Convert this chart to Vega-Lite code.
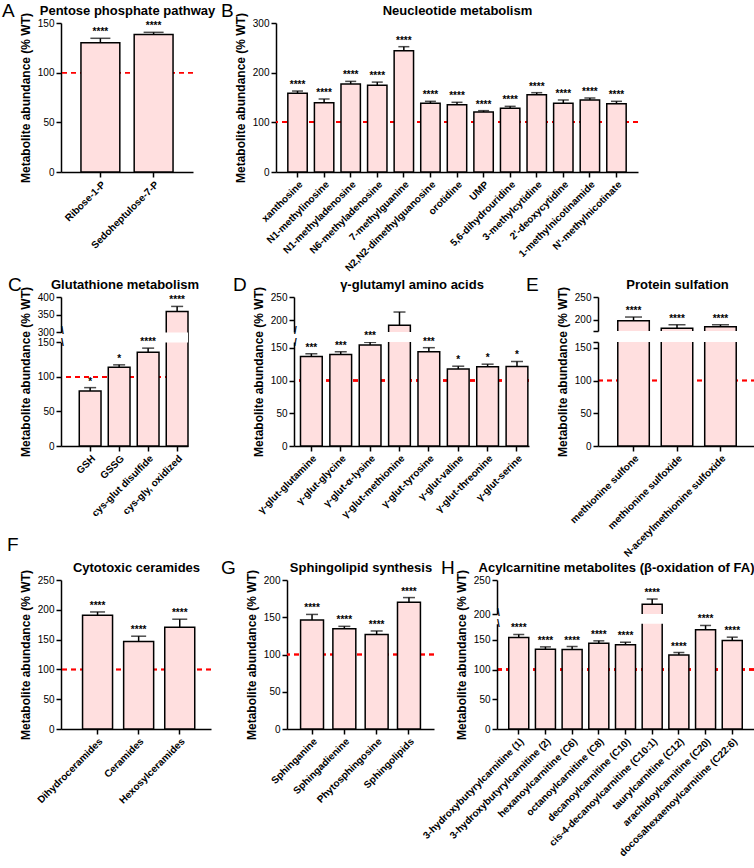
{
  "$schema": "https://vega.github.io/schema/vega-lite/v6.json",
  "padding": {"left": 2, "top": 2, "right": 0, "bottom": 0},
  "spacing": 3,
  "bounds": "full",
  "datasets": {
    "A": [
      {"name": "Ribose-1-P", "value": 130.2, "err": 134.6, "sig": "****"},
      {"name": "Sedoheptulose-7-P", "value": 138.3, "err": 140.6, "sig": "****"}
    ],
    "B": [
      {"name": "xanthosine", "value": 158.4, "err": 163, "sig": "****"},
      {"name": "N1-methylinosine", "value": 139.6, "err": 147, "sig": "****"},
      {"name": "N1-methyladenosine", "value": 177.2, "err": 182.5, "sig": "****"},
      {"name": "N6-methyladenosine", "value": 174.5, "err": 181, "sig": "****"},
      {"name": "7-methylguanine", "value": 244.3, "err": 252.3, "sig": "****"},
      {"name": "N2,N2-dimethylguanosine", "value": 138.3, "err": 142.3, "sig": "****"},
      {"name": "orotidine", "value": 135.6, "err": 140.3, "sig": "****"},
      {"name": "UMP", "value": 120.8, "err": 123.5, "sig": "****"},
      {"name": "5,6-dihydrouridine", "value": 128.2, "err": 132.2, "sig": "****"},
      {"name": "3-methylcytidine", "value": 155.7, "err": 159.7, "sig": "****"},
      {"name": "2'-deoxycytidine", "value": 138.3, "err": 145, "sig": "****"},
      {"name": "1-methylnicotinamide", "value": 145, "err": 149, "sig": "****"},
      {"name": "N'-methylnicotinate", "value": 137.6, "err": 142.3, "sig": "****"}
    ],
    "C": [
      {"name": "GSH", "value": 79.6, "err": 84.5, "sig": "*"},
      {"name": "GSSG", "value": 114, "err": 117.5, "sig": "*"},
      {"name": "cys-glut disulfide", "value": 135.9, "err": 141.7, "sig": "****"},
      {"name": "cys-gly, oxidized", "value": 359.2, "err": 373.4, "sig": "****"}
    ],
    "Cbreak": [{"lo": 150, "hi": 300}],
    "D": [
      {"name": "γ-glut-glutamine", "value": 136.9, "err": 141, "sig": "***"},
      {"name": "γ-glut-glycine", "value": 140, "err": 144.1, "sig": "***"},
      {"name": "γ-glut-α-lysine", "value": 154.4, "err": 158.5, "sig": "***"},
      {"name": "γ-glut-methionine", "value": 189.3, "err": 217.8, "sig": ""},
      {"name": "γ-glut-tyrosine", "value": 144.1, "err": 150.3, "sig": "***"},
      {"name": "γ-glut-valine", "value": 117.9, "err": 122, "sig": "*"},
      {"name": "γ-glut-threonine", "value": 121, "err": 125.1, "sig": "*"},
      {"name": "γ-glut-serine", "value": 121.5, "err": 129.2, "sig": "*"}
    ],
    "Dbreak": [{"lo": 159, "hi": 175}],
    "E": [
      {"name": "methionine sulfone", "value": 197.8, "err": 205.8, "sig": "****"},
      {"name": "methionine sulfoxide", "value": 181, "err": 188.8, "sig": "****"},
      {"name": "N-acetylmethionine sulfoxide", "value": 184.3, "err": 188.8, "sig": "****"}
    ],
    "Ebreak": [{"lo": 159, "hi": 175}],
    "F": [
      {"name": "Dihydroceramides", "value": 190.8, "err": 196.4, "sig": "****"},
      {"name": "Ceramides", "value": 146.8, "err": 155.7, "sig": "****"},
      {"name": "Hexosylceramides", "value": 170.8, "err": 184.2, "sig": "****"}
    ],
    "G": [
      {"name": "Sphinganine", "value": 146.2, "err": 153.8, "sig": "****"},
      {"name": "Sphingadienine", "value": 134.7, "err": 137.8, "sig": "****"},
      {"name": "Phytosphingosine", "value": 126.7, "err": 131.6, "sig": "****"},
      {"name": "Sphingolipids", "value": 170.2, "err": 176.4, "sig": "****"}
    ],
    "H": [
      {"name": "3-hydroxybutyrylcarnitine (1)", "value": 153.9, "err": 159, "sig": "****"},
      {"name": "3-hydroxybutyrylcarnitine (2)", "value": 134.3, "err": 138.2, "sig": "****"},
      {"name": "hexanoylcarnitine (C6)", "value": 133.7, "err": 138.8, "sig": "****"},
      {"name": "octanoylcarnitine (C8)", "value": 144.4, "err": 148.3, "sig": "****"},
      {"name": "decanoylcarnitine (C10)", "value": 141.6, "err": 146, "sig": "****"},
      {"name": "cis-4-decanoylcarnitine (C10:1)", "value": 214.3, "err": 222, "sig": "****"},
      {"name": "taurylcarnitine (C12)", "value": 124.7, "err": 128.7, "sig": "****"},
      {"name": "arachidoylcarnitine (C20)", "value": 166.9, "err": 174.2, "sig": "****"},
      {"name": "docosahexaenoylcarnitine (C22:6)", "value": 148.9, "err": 154.5, "sig": "****"}
    ],
    "Hbreak": [{"lo": 177, "hi": 200}]
  },
  "vconcat": [
    {
      "hconcat": [
        {
          "width": 132, "height": 149,
          "title": {"text": "A", "dx": -59, "offset": -17},
          "data": {"name": "A"},
          "resolve": {"axis": {"x": "independent"}},
          "layer": [
            {"mark": {"type": "rule", "color": "#ff0000", "strokeDash": [5, 4], "strokeWidth": 1.5}, "encoding": {"y": {"datum": 100, "type": "quantitative", "scale": {"domain": [0, 150], "nice": false}, "axis": {"title": "Metabolite abundance (% WT)", "values": [0, 50, 100, 150], "labelOverlap": false}}}},
            {"mark": {"type": "bar", "fill": "#ffdfdf", "stroke": "#000000", "strokeWidth": 1.5},
             "encoding": {
               "x": {"field": "name", "type": "nominal", "sort": null, "scale": {"paddingInner": 0.27, "paddingOuter": 0.375}, "axis": {"title": null}},
               "y": {"field": "value", "type": "quantitative", "scale": {"domain": [0, 150], "nice": false}, "axis": {"title": "Metabolite abundance (% WT)", "values": [0, 50, 100, 150], "labelOverlap": false}}}},
            {"mark": {"type": "rule", "color": "#000000", "strokeWidth": 1.5}, "encoding": {"x": {"field": "name", "type": "nominal", "sort": null, "axis": null}, "y": {"field": "value", "type": "quantitative", "axis": {"title": "Metabolite abundance (% WT)", "values": [0, 50, 100, 150], "labelOverlap": false}}, "y2": {"field": "err"}}},
            {"mark": {"type": "tick", "color": "#000000", "thickness": 1.5, "size": 20}, "encoding": {"x": {"field": "name", "type": "nominal", "sort": null, "axis": null}, "y": {"field": "err", "type": "quantitative", "axis": {"title": "Metabolite abundance (% WT)", "values": [0, 50, 100, 150], "labelOverlap": false}}}},
            {"mark": {"type": "text", "fontSize": 10, "fontWeight": "bold", "baseline": "alphabetic", "dy": -3}, "encoding": {"x": {"field": "name", "type": "nominal", "sort": null, "axis": {"orient": "top", "title": "Pentose phosphate pathway", "labels": false, "ticks": false, "domain": false}}, "y": {"field": "err", "type": "quantitative", "axis": {"title": "Metabolite abundance (% WT)", "values": [0, 50, 100, 150], "labelOverlap": false}}, "text": {"field": "sig"}}}
          ]
        },
        {
          "width": 362, "height": 149,
          "title": {"text": "B", "dx": -55, "offset": -17},
          "data": {"name": "B"},
          "resolve": {"axis": {"x": "independent"}},
          "layer": [
            {"mark": {"type": "rule", "color": "#ff0000", "strokeDash": [5, 4], "strokeWidth": 1.5}, "encoding": {"y": {"datum": 100, "type": "quantitative", "scale": {"domain": [0, 300], "nice": false}, "axis": {"title": "Metabolite abundance (% WT)", "values": [0, 100, 200, 300], "labelOverlap": false}}}},
            {"mark": {"type": "bar", "fill": "#ffdfdf", "stroke": "#000000", "strokeWidth": 1.5},
             "encoding": {
               "x": {"field": "name", "type": "nominal", "sort": null, "scale": {"paddingInner": 0.27, "paddingOuter": 0.445}, "axis": {"title": null}},
               "y": {"field": "value", "type": "quantitative", "scale": {"domain": [0, 300], "nice": false}, "axis": {"title": "Metabolite abundance (% WT)", "values": [0, 100, 200, 300], "labelOverlap": false}}}},
            {"mark": {"type": "rule", "color": "#000000", "strokeWidth": 1.5}, "encoding": {"x": {"field": "name", "type": "nominal", "sort": null, "axis": null}, "y": {"field": "value", "type": "quantitative", "axis": {"title": "Metabolite abundance (% WT)", "values": [0, 100, 200, 300], "labelOverlap": false}}, "y2": {"field": "err"}}},
            {"mark": {"type": "tick", "color": "#000000", "thickness": 1.5, "size": 11}, "encoding": {"x": {"field": "name", "type": "nominal", "sort": null, "axis": null}, "y": {"field": "err", "type": "quantitative", "axis": {"title": "Metabolite abundance (% WT)", "values": [0, 100, 200, 300], "labelOverlap": false}}}},
            {"mark": {"type": "text", "fontSize": 10, "fontWeight": "bold", "baseline": "alphabetic", "dy": -3}, "encoding": {"x": {"field": "name", "type": "nominal", "sort": null, "axis": {"orient": "top", "title": "Neucleotide metabolism", "labels": false, "ticks": false, "domain": false}}, "y": {"field": "err", "type": "quantitative", "axis": {"title": "Metabolite abundance (% WT)", "values": [0, 100, 200, 300], "labelOverlap": false}}, "text": {"field": "sig"}}}
          ]
        }
      ],
      "spacing": 83,
      "bounds": "flush"
    },
    {
      "vconcat": [
        {
          "hconcat": [
            {
              "width": 127, "height": 149,
              "title": {"text": "C", "dx": -53, "offset": -17},
              "data": {"name": "C"},
              "resolve": {"axis": {"x": "independent"}},
              "layer": [
                {"mark": {"type": "rule", "color": "#ff0000", "strokeDash": [5, 4], "strokeWidth": 1.5}, "encoding": {"y": {"datum": 100, "type": "quantitative", "scale": {"domain": [0, 150, 300, 400], "range": [149, 45.4, 35.4, 0], "nice": false}, "axis": {"title": "Metabolite abundance (% WT)", "values": [0, 50, 100, 150, 150.01, 299.99, 300, 350, 400], "labelOverlap": false, "zindex": 1, "domainDash": [103.6, 10, 300], "labelExpr": "datum.value == 150.01 || datum.value == 299.99 ? '\\\\' : datum.label", "labelPadding": {"condition": {"test": "datum.value == 150.01 || datum.value == 299.99", "value": -6}, "value": 2}, "labelAlign": {"condition": {"test": "datum.value == 150.01 || datum.value == 299.99", "value": "center"}, "value": "right"}, "labelFontSize": {"condition": {"test": "datum.value == 150.01 || datum.value == 299.99", "value": 10}, "value": 10}, "labelFontWeight": {"condition": {"test": "datum.value == 150.01 || datum.value == 299.99", "value": "bold"}, "value": "normal"}, "labelOffset": {"condition": {"test": "datum.value == 299.99", "value": -2}, "value": 0}, "tickOpacity": {"condition": {"test": "datum.value == 150.01 || datum.value == 299.99", "value": 0}, "value": 1}}}}},
                {"mark": {"type": "bar", "fill": "#ffdfdf", "stroke": "#000000", "strokeWidth": 1.5},
                 "encoding": {
                   "x": {"field": "name", "type": "nominal", "sort": null, "scale": {"paddingInner": 0.25, "paddingOuter": 0.315, "align": 1}, "axis": {"title": null}},
                   "y": {"field": "value", "type": "quantitative", "scale": {"domain": [0, 150, 300, 400], "range": [149, 45.4, 35.4, 0], "nice": false}, "axis": {"title": "Metabolite abundance (% WT)", "values": [0, 50, 100, 150, 150.01, 299.99, 300, 350, 400], "labelOverlap": false, "zindex": 1, "domainDash": [103.6, 10, 300], "labelExpr": "datum.value == 150.01 || datum.value == 299.99 ? '\\\\' : datum.label", "labelPadding": {"condition": {"test": "datum.value == 150.01 || datum.value == 299.99", "value": -6}, "value": 2}, "labelAlign": {"condition": {"test": "datum.value == 150.01 || datum.value == 299.99", "value": "center"}, "value": "right"}, "labelFontSize": {"condition": {"test": "datum.value == 150.01 || datum.value == 299.99", "value": 10}, "value": 10}, "labelFontWeight": {"condition": {"test": "datum.value == 150.01 || datum.value == 299.99", "value": "bold"}, "value": "normal"}, "labelOffset": {"condition": {"test": "datum.value == 299.99", "value": -2}, "value": 0}, "tickOpacity": {"condition": {"test": "datum.value == 150.01 || datum.value == 299.99", "value": 0}, "value": 1}}}}},
                {"mark": {"type": "rule", "color": "#000000", "strokeWidth": 1.5}, "encoding": {"x": {"field": "name", "type": "nominal", "sort": null, "axis": null}, "y": {"field": "value", "type": "quantitative", "axis": {"title": "Metabolite abundance (% WT)", "values": [0, 50, 100, 150, 150.01, 299.99, 300, 350, 400], "labelOverlap": false, "zindex": 1, "domainDash": [103.6, 10, 300], "labelExpr": "datum.value == 150.01 || datum.value == 299.99 ? '\\\\' : datum.label", "labelPadding": {"condition": {"test": "datum.value == 150.01 || datum.value == 299.99", "value": -6}, "value": 2}, "labelAlign": {"condition": {"test": "datum.value == 150.01 || datum.value == 299.99", "value": "center"}, "value": "right"}, "labelFontSize": {"condition": {"test": "datum.value == 150.01 || datum.value == 299.99", "value": 10}, "value": 10}, "labelFontWeight": {"condition": {"test": "datum.value == 150.01 || datum.value == 299.99", "value": "bold"}, "value": "normal"}, "labelOffset": {"condition": {"test": "datum.value == 299.99", "value": -2}, "value": 0}, "tickOpacity": {"condition": {"test": "datum.value == 150.01 || datum.value == 299.99", "value": 0}, "value": 1}}}, "y2": {"field": "err"}}},
                {"mark": {"type": "tick", "color": "#000000", "thickness": 1.5, "size": 12}, "encoding": {"x": {"field": "name", "type": "nominal", "sort": null, "axis": null}, "y": {"field": "err", "type": "quantitative", "axis": {"title": "Metabolite abundance (% WT)", "values": [0, 50, 100, 150, 150.01, 299.99, 300, 350, 400], "labelOverlap": false, "zindex": 1, "domainDash": [103.6, 10, 300], "labelExpr": "datum.value == 150.01 || datum.value == 299.99 ? '\\\\' : datum.label", "labelPadding": {"condition": {"test": "datum.value == 150.01 || datum.value == 299.99", "value": -6}, "value": 2}, "labelAlign": {"condition": {"test": "datum.value == 150.01 || datum.value == 299.99", "value": "center"}, "value": "right"}, "labelFontSize": {"condition": {"test": "datum.value == 150.01 || datum.value == 299.99", "value": 10}, "value": 10}, "labelFontWeight": {"condition": {"test": "datum.value == 150.01 || datum.value == 299.99", "value": "bold"}, "value": "normal"}, "labelOffset": {"condition": {"test": "datum.value == 299.99", "value": -2}, "value": 0}, "tickOpacity": {"condition": {"test": "datum.value == 150.01 || datum.value == 299.99", "value": 0}, "value": 1}}}}},
                {"data": {"name": "Cbreak"}, "mark": {"type": "rect", "fill": "#ffffff"}, "encoding": {"y": {"field": "lo", "type": "quantitative", "axis": {"title": "Metabolite abundance (% WT)", "values": [0, 50, 100, 150, 150.01, 299.99, 300, 350, 400], "labelOverlap": false, "zindex": 1, "domainDash": [103.6, 10, 300], "labelExpr": "datum.value == 150.01 || datum.value == 299.99 ? '\\\\' : datum.label", "labelPadding": {"condition": {"test": "datum.value == 150.01 || datum.value == 299.99", "value": -6}, "value": 2}, "labelAlign": {"condition": {"test": "datum.value == 150.01 || datum.value == 299.99", "value": "center"}, "value": "right"}, "labelFontSize": {"condition": {"test": "datum.value == 150.01 || datum.value == 299.99", "value": 10}, "value": 10}, "labelFontWeight": {"condition": {"test": "datum.value == 150.01 || datum.value == 299.99", "value": "bold"}, "value": "normal"}, "labelOffset": {"condition": {"test": "datum.value == 299.99", "value": -2}, "value": 0}, "tickOpacity": {"condition": {"test": "datum.value == 150.01 || datum.value == 299.99", "value": 0}, "value": 1}}}, "y2": {"field": "hi"}}},
                {"mark": {"type": "text", "fontSize": 10, "fontWeight": "bold", "baseline": "alphabetic", "dy": -3}, "encoding": {"x": {"field": "name", "type": "nominal", "sort": null, "axis": {"orient": "top", "title": "Glutathione metabolism", "labels": false, "ticks": false, "domain": false}}, "y": {"field": "err", "type": "quantitative", "axis": {"title": "Metabolite abundance (% WT)", "values": [0, 50, 100, 150, 150.01, 299.99, 300, 350, 400], "labelOverlap": false, "zindex": 1, "domainDash": [103.6, 10, 300], "labelExpr": "datum.value == 150.01 || datum.value == 299.99 ? '\\\\' : datum.label", "labelPadding": {"condition": {"test": "datum.value == 150.01 || datum.value == 299.99", "value": -6}, "value": 2}, "labelAlign": {"condition": {"test": "datum.value == 150.01 || datum.value == 299.99", "value": "center"}, "value": "right"}, "labelFontSize": {"condition": {"test": "datum.value == 150.01 || datum.value == 299.99", "value": 10}, "value": 10}, "labelFontWeight": {"condition": {"test": "datum.value == 150.01 || datum.value == 299.99", "value": "bold"}, "value": "normal"}, "labelOffset": {"condition": {"test": "datum.value == 299.99", "value": -2}, "value": 0}, "tickOpacity": {"condition": {"test": "datum.value == 150.01 || datum.value == 299.99", "value": 0}, "value": 1}}}, "text": {"field": "sig"}}}
              ]
            },
            {
              "hconcat": [
                {
                  "width": 235, "height": 149,
                  "title": {"text": "D", "dx": -61, "offset": -17},
                  "data": {"name": "D"},
                  "resolve": {"axis": {"x": "independent"}},
                  "layer": [
                    {"mark": {"type": "rule", "color": "#ff0000", "strokeDash": [5, 4], "strokeWidth": 1.5}, "encoding": {"y": {"datum": 100, "type": "quantitative", "scale": {"domain": [0, 159, 175, 250], "range": [149, 45, 35, 0], "nice": false}, "axis": {"title": "Metabolite abundance (% WT)", "values": [0, 50, 100, 150, 159, 175, 200, 250], "labelOverlap": false, "zindex": 1, "domainDash": [104, 10, 300], "labelExpr": "datum.value == 159 || datum.value == 175 ? '/' : datum.label", "labelPadding": {"condition": {"test": "datum.value == 159 || datum.value == 175", "value": -6}, "value": 2}, "labelAlign": {"condition": {"test": "datum.value == 159 || datum.value == 175", "value": "center"}, "value": "right"}, "labelFontWeight": {"condition": {"test": "datum.value == 159 || datum.value == 175", "value": "bold"}, "value": "normal"}, "labelOffset": {"condition": {"test": "datum.value == 175", "value": -2}, "value": 0}, "tickOpacity": {"condition": {"test": "datum.value == 159 || datum.value == 175", "value": 0}, "value": 1}}}}},
                    {"mark": {"type": "bar", "fill": "#ffdfdf", "stroke": "#000000", "strokeWidth": 1.5},
                     "encoding": {
                       "x": {"field": "name", "type": "nominal", "sort": null, "scale": {"paddingInner": 0.26, "paddingOuter": 0.13, "align": 0.85}, "axis": {"title": null}},
                       "y": {"field": "value", "type": "quantitative", "scale": {"domain": [0, 159, 175, 250], "range": [149, 45, 35, 0], "nice": false}, "axis": {"title": "Metabolite abundance (% WT)", "values": [0, 50, 100, 150, 159, 175, 200, 250], "labelOverlap": false, "zindex": 1, "domainDash": [104, 10, 300], "labelExpr": "datum.value == 159 || datum.value == 175 ? '/' : datum.label", "labelPadding": {"condition": {"test": "datum.value == 159 || datum.value == 175", "value": -6}, "value": 2}, "labelAlign": {"condition": {"test": "datum.value == 159 || datum.value == 175", "value": "center"}, "value": "right"}, "labelFontWeight": {"condition": {"test": "datum.value == 159 || datum.value == 175", "value": "bold"}, "value": "normal"}, "labelOffset": {"condition": {"test": "datum.value == 175", "value": -2}, "value": 0}, "tickOpacity": {"condition": {"test": "datum.value == 159 || datum.value == 175", "value": 0}, "value": 1}}}}},
                    {"mark": {"type": "rule", "color": "#000000", "strokeWidth": 1.5}, "encoding": {"x": {"field": "name", "type": "nominal", "sort": null, "axis": null}, "y": {"field": "value", "type": "quantitative", "axis": {"title": "Metabolite abundance (% WT)", "values": [0, 50, 100, 150, 159, 175, 200, 250], "labelOverlap": false, "zindex": 1, "domainDash": [104, 10, 300], "labelExpr": "datum.value == 159 || datum.value == 175 ? '/' : datum.label", "labelPadding": {"condition": {"test": "datum.value == 159 || datum.value == 175", "value": -6}, "value": 2}, "labelAlign": {"condition": {"test": "datum.value == 159 || datum.value == 175", "value": "center"}, "value": "right"}, "labelFontWeight": {"condition": {"test": "datum.value == 159 || datum.value == 175", "value": "bold"}, "value": "normal"}, "labelOffset": {"condition": {"test": "datum.value == 175", "value": -2}, "value": 0}, "tickOpacity": {"condition": {"test": "datum.value == 159 || datum.value == 175", "value": 0}, "value": 1}}}, "y2": {"field": "err"}}},
                    {"mark": {"type": "tick", "color": "#000000", "thickness": 1.5, "size": 12}, "encoding": {"x": {"field": "name", "type": "nominal", "sort": null, "axis": null}, "y": {"field": "err", "type": "quantitative", "axis": {"title": "Metabolite abundance (% WT)", "values": [0, 50, 100, 150, 159, 175, 200, 250], "labelOverlap": false, "zindex": 1, "domainDash": [104, 10, 300], "labelExpr": "datum.value == 159 || datum.value == 175 ? '/' : datum.label", "labelPadding": {"condition": {"test": "datum.value == 159 || datum.value == 175", "value": -6}, "value": 2}, "labelAlign": {"condition": {"test": "datum.value == 159 || datum.value == 175", "value": "center"}, "value": "right"}, "labelFontWeight": {"condition": {"test": "datum.value == 159 || datum.value == 175", "value": "bold"}, "value": "normal"}, "labelOffset": {"condition": {"test": "datum.value == 175", "value": -2}, "value": 0}, "tickOpacity": {"condition": {"test": "datum.value == 159 || datum.value == 175", "value": 0}, "value": 1}}}}},
                    {"data": {"name": "Dbreak"}, "mark": {"type": "rect", "fill": "#ffffff"}, "encoding": {"y": {"field": "lo", "type": "quantitative", "axis": {"title": "Metabolite abundance (% WT)", "values": [0, 50, 100, 150, 159, 175, 200, 250], "labelOverlap": false, "zindex": 1, "domainDash": [104, 10, 300], "labelExpr": "datum.value == 159 || datum.value == 175 ? '/' : datum.label", "labelPadding": {"condition": {"test": "datum.value == 159 || datum.value == 175", "value": -6}, "value": 2}, "labelAlign": {"condition": {"test": "datum.value == 159 || datum.value == 175", "value": "center"}, "value": "right"}, "labelFontWeight": {"condition": {"test": "datum.value == 159 || datum.value == 175", "value": "bold"}, "value": "normal"}, "labelOffset": {"condition": {"test": "datum.value == 175", "value": -2}, "value": 0}, "tickOpacity": {"condition": {"test": "datum.value == 159 || datum.value == 175", "value": 0}, "value": 1}}}, "y2": {"field": "hi"}}},
                    {"mark": {"type": "text", "fontSize": 10, "fontWeight": "bold", "baseline": "alphabetic", "dy": -3}, "encoding": {"x": {"field": "name", "type": "nominal", "sort": null, "axis": {"orient": "top", "title": "γ-glutamyl amino acids", "labels": false, "ticks": false, "domain": false}}, "y": {"field": "err", "type": "quantitative", "axis": {"title": "Metabolite abundance (% WT)", "values": [0, 50, 100, 150, 159, 175, 200, 250], "labelOverlap": false, "zindex": 1, "domainDash": [104, 10, 300], "labelExpr": "datum.value == 159 || datum.value == 175 ? '/' : datum.label", "labelPadding": {"condition": {"test": "datum.value == 159 || datum.value == 175", "value": -6}, "value": 2}, "labelAlign": {"condition": {"test": "datum.value == 159 || datum.value == 175", "value": "center"}, "value": "right"}, "labelFontWeight": {"condition": {"test": "datum.value == 159 || datum.value == 175", "value": "bold"}, "value": "normal"}, "labelOffset": {"condition": {"test": "datum.value == 175", "value": -2}, "value": 0}, "tickOpacity": {"condition": {"test": "datum.value == 159 || datum.value == 175", "value": 0}, "value": 1}}}, "text": {"field": "sig"}}}
                  ]
                },
                {
                  "width": 158, "height": 149,
                  "title": {"text": "E", "dx": -72, "offset": -17},
                  "data": {"name": "E"},
                  "resolve": {"axis": {"x": "independent"}},
                  "layer": [
                    {"mark": {"type": "rule", "color": "#ff0000", "strokeDash": [5, 4], "strokeWidth": 1.5}, "encoding": {"y": {"datum": 100, "type": "quantitative", "scale": {"domain": [0, 159, 175, 250], "range": [149, 45, 34, 0], "nice": false}, "axis": {"title": "Metabolite abundance (% WT)", "values": [0, 50, 100, 150, 159, 175, 200, 250], "labelOverlap": false, "zindex": 1, "domainDash": [104, 11, 300], "labelExpr": "datum.value == 159 || datum.value == 175 ? '' : datum.label"}}}},
                    {"mark": {"type": "bar", "fill": "#ffdfdf", "stroke": "#000000", "strokeWidth": 1.5},
                     "encoding": {
                       "x": {"field": "name", "type": "nominal", "sort": null, "scale": {"paddingInner": 0.275, "paddingOuter": 0.455}, "axis": {"title": null}},
                       "y": {"field": "value", "type": "quantitative", "scale": {"domain": [0, 159, 175, 250], "range": [149, 45, 34, 0], "nice": false}, "axis": {"title": "Metabolite abundance (% WT)", "values": [0, 50, 100, 150, 159, 175, 200, 250], "labelOverlap": false, "zindex": 1, "domainDash": [104, 11, 300], "labelExpr": "datum.value == 159 || datum.value == 175 ? '' : datum.label"}}}},
                    {"mark": {"type": "rule", "color": "#000000", "strokeWidth": 1.5}, "encoding": {"x": {"field": "name", "type": "nominal", "sort": null, "axis": null}, "y": {"field": "value", "type": "quantitative", "axis": {"title": "Metabolite abundance (% WT)", "values": [0, 50, 100, 150, 159, 175, 200, 250], "labelOverlap": false, "zindex": 1, "domainDash": [104, 11, 300], "labelExpr": "datum.value == 159 || datum.value == 175 ? '' : datum.label"}}, "y2": {"field": "err"}}},
                    {"mark": {"type": "tick", "color": "#000000", "thickness": 1.5, "size": 17}, "encoding": {"x": {"field": "name", "type": "nominal", "sort": null, "axis": null}, "y": {"field": "err", "type": "quantitative", "axis": {"title": "Metabolite abundance (% WT)", "values": [0, 50, 100, 150, 159, 175, 200, 250], "labelOverlap": false, "zindex": 1, "domainDash": [104, 11, 300], "labelExpr": "datum.value == 159 || datum.value == 175 ? '' : datum.label"}}}},
                    {"data": {"name": "Ebreak"}, "mark": {"type": "rect", "fill": "#ffffff"}, "encoding": {"y": {"field": "lo", "type": "quantitative", "axis": {"title": "Metabolite abundance (% WT)", "values": [0, 50, 100, 150, 159, 175, 200, 250], "labelOverlap": false, "zindex": 1, "domainDash": [104, 11, 300], "labelExpr": "datum.value == 159 || datum.value == 175 ? '' : datum.label"}}, "y2": {"field": "hi"}}},
                    {"mark": {"type": "text", "fontSize": 10, "fontWeight": "bold", "baseline": "alphabetic", "dy": -3}, "encoding": {"x": {"field": "name", "type": "nominal", "sort": null, "axis": {"orient": "top", "title": "Protein sulfation", "labels": false, "ticks": false, "domain": false}}, "y": {"field": "err", "type": "quantitative", "axis": {"title": "Metabolite abundance (% WT)", "values": [0, 50, 100, 150, 159, 175, 200, 250], "labelOverlap": false, "zindex": 1, "domainDash": [104, 11, 300], "labelExpr": "datum.value == 159 || datum.value == 175 ? '' : datum.label"}}, "text": {"field": "sig"}}}
                  ]
                }
              ],
              "spacing": 69,
              "bounds": "flush"
            }
          ],
          "spacing": 106,
          "bounds": "flush"
        },
        {
          "hconcat": [
            {
              "width": 150, "height": 149,
              "title": {"text": "F", "dx": -54, "offset": 6},
              "data": {"name": "F"},
              "resolve": {"axis": {"x": "independent"}},
              "layer": [
                {"mark": {"type": "rule", "color": "#ff0000", "strokeDash": [5, 4], "strokeWidth": 1.5}, "encoding": {"y": {"datum": 100, "type": "quantitative", "scale": {"domain": [0, 250], "nice": false}, "axis": {"title": "Metabolite abundance (% WT)", "values": [0, 50, 100, 150, 200, 250], "labelOverlap": false}}}},
                {"mark": {"type": "bar", "fill": "#ffdfdf", "stroke": "#000000", "strokeWidth": 1.5},
                 "encoding": {
                   "x": {"field": "name", "type": "nominal", "sort": null, "scale": {"paddingInner": 0.27, "paddingOuter": 0.46, "align": 0.57}, "axis": {"title": null}},
                   "y": {"field": "value", "type": "quantitative", "scale": {"domain": [0, 250], "nice": false}, "axis": {"title": "Metabolite abundance (% WT)", "values": [0, 50, 100, 150, 200, 250], "labelOverlap": false}}}},
                {"mark": {"type": "rule", "color": "#000000", "strokeWidth": 1.5}, "encoding": {"x": {"field": "name", "type": "nominal", "sort": null, "axis": null}, "y": {"field": "value", "type": "quantitative", "axis": {"title": "Metabolite abundance (% WT)", "values": [0, 50, 100, 150, 200, 250], "labelOverlap": false}}, "y2": {"field": "err"}}},
                {"mark": {"type": "tick", "color": "#000000", "thickness": 1.5, "size": 15}, "encoding": {"x": {"field": "name", "type": "nominal", "sort": null, "axis": null}, "y": {"field": "err", "type": "quantitative", "axis": {"title": "Metabolite abundance (% WT)", "values": [0, 50, 100, 150, 200, 250], "labelOverlap": false}}}},
                {"mark": {"type": "text", "fontSize": 10, "fontWeight": "bold", "baseline": "alphabetic", "dy": -3}, "encoding": {"x": {"field": "name", "type": "nominal", "sort": null, "axis": {"orient": "top", "title": "Cytotoxic ceramides", "labels": false, "ticks": false, "domain": false}}, "y": {"field": "err", "type": "quantitative", "axis": {"title": "Metabolite abundance (% WT)", "values": [0, 50, 100, 150, 200, 250], "labelOverlap": false}}, "text": {"field": "sig"}}}
              ]
            },
            {
              "hconcat": [
                {
                  "width": 147, "height": 149,
                  "title": {"text": "G", "dx": -66, "offset": -17},
                  "data": {"name": "G"},
                  "resolve": {"axis": {"x": "independent"}},
                  "layer": [
                    {"mark": {"type": "rule", "color": "#ff0000", "strokeDash": [5, 4], "strokeWidth": 1.5}, "encoding": {"y": {"datum": 100, "type": "quantitative", "scale": {"domain": [0, 200], "nice": false}, "axis": {"title": "Metabolite abundance (% WT)", "values": [0, 50, 100, 150, 200], "labelOverlap": false}}}},
                    {"mark": {"type": "bar", "fill": "#ffdfdf", "stroke": "#000000", "strokeWidth": 1.5},
                     "encoding": {
                       "x": {"field": "name", "type": "nominal", "sort": null, "scale": {"paddingInner": 0.29, "paddingOuter": 0.42}, "axis": {"title": null}},
                       "y": {"field": "value", "type": "quantitative", "scale": {"domain": [0, 200], "nice": false}, "axis": {"title": "Metabolite abundance (% WT)", "values": [0, 50, 100, 150, 200], "labelOverlap": false}}}},
                    {"mark": {"type": "rule", "color": "#000000", "strokeWidth": 1.5}, "encoding": {"x": {"field": "name", "type": "nominal", "sort": null, "axis": null}, "y": {"field": "value", "type": "quantitative", "axis": {"title": "Metabolite abundance (% WT)", "values": [0, 50, 100, 150, 200], "labelOverlap": false}}, "y2": {"field": "err"}}},
                    {"mark": {"type": "tick", "color": "#000000", "thickness": 1.5, "size": 12}, "encoding": {"x": {"field": "name", "type": "nominal", "sort": null, "axis": null}, "y": {"field": "err", "type": "quantitative", "axis": {"title": "Metabolite abundance (% WT)", "values": [0, 50, 100, 150, 200], "labelOverlap": false}}}},
                    {"mark": {"type": "text", "fontSize": 10, "fontWeight": "bold", "baseline": "alphabetic", "dy": -3}, "encoding": {"x": {"field": "name", "type": "nominal", "sort": null, "axis": {"orient": "top", "title": "Sphingolipid synthesis", "labels": false, "ticks": false, "domain": false}}, "y": {"field": "err", "type": "quantitative", "axis": {"title": "Metabolite abundance (% WT)", "values": [0, 50, 100, 150, 200], "labelOverlap": false}}, "text": {"field": "sig"}}}
                  ]
                },
                {
                  "width": 257, "height": 149,
                  "title": {"text": "H", "dx": -56, "offset": -17},
                  "data": {"name": "H"},
                  "resolve": {"axis": {"x": "independent"}},
                  "layer": [
                    {"mark": {"type": "rule", "color": "#ff0000", "strokeDash": [5, 4], "strokeWidth": 1.5}, "encoding": {"y": {"datum": 100, "type": "quantitative", "scale": {"domain": [0, 177, 200, 250], "range": [149, 43.8, 34, 0], "nice": false}, "axis": {"title": "Metabolite abundance (% WT)", "values": [0, 50, 100, 150, 177, 199.99, 200, 250], "labelOverlap": false, "zindex": 1, "domainDash": [105.2, 9.8, 300], "labelExpr": "datum.value == 177 || datum.value == 199.99 ? '\\\\' : datum.label", "labelPadding": {"condition": {"test": "datum.value == 177 || datum.value == 199.99", "value": -6}, "value": 2}, "labelAlign": {"condition": {"test": "datum.value == 177 || datum.value == 199.99", "value": "center"}, "value": "right"}, "labelFontWeight": {"condition": {"test": "datum.value == 177 || datum.value == 199.99", "value": "bold"}, "value": "normal"}, "labelOffset": {"condition": {"test": "datum.value == 199.99", "value": -2}, "value": 0}, "tickOpacity": {"condition": {"test": "datum.value == 177 || datum.value == 199.99", "value": 0}, "value": 1}}}}},
                    {"mark": {"type": "bar", "fill": "#ffdfdf", "stroke": "#000000", "strokeWidth": 1.5},
                     "encoding": {
                       "x": {"field": "name", "type": "nominal", "sort": null, "scale": {"paddingInner": 0.25, "paddingOuter": 0.44}, "axis": {"title": null}},
                       "y": {"field": "value", "type": "quantitative", "scale": {"domain": [0, 177, 200, 250], "range": [149, 43.8, 34, 0], "nice": false}, "axis": {"title": "Metabolite abundance (% WT)", "values": [0, 50, 100, 150, 177, 199.99, 200, 250], "labelOverlap": false, "zindex": 1, "domainDash": [105.2, 9.8, 300], "labelExpr": "datum.value == 177 || datum.value == 199.99 ? '\\\\' : datum.label", "labelPadding": {"condition": {"test": "datum.value == 177 || datum.value == 199.99", "value": -6}, "value": 2}, "labelAlign": {"condition": {"test": "datum.value == 177 || datum.value == 199.99", "value": "center"}, "value": "right"}, "labelFontWeight": {"condition": {"test": "datum.value == 177 || datum.value == 199.99", "value": "bold"}, "value": "normal"}, "labelOffset": {"condition": {"test": "datum.value == 199.99", "value": -2}, "value": 0}, "tickOpacity": {"condition": {"test": "datum.value == 177 || datum.value == 199.99", "value": 0}, "value": 1}}}}},
                    {"mark": {"type": "rule", "color": "#000000", "strokeWidth": 1.5}, "encoding": {"x": {"field": "name", "type": "nominal", "sort": null, "axis": null}, "y": {"field": "value", "type": "quantitative", "axis": {"title": "Metabolite abundance (% WT)", "values": [0, 50, 100, 150, 177, 199.99, 200, 250], "labelOverlap": false, "zindex": 1, "domainDash": [105.2, 9.8, 300], "labelExpr": "datum.value == 177 || datum.value == 199.99 ? '\\\\' : datum.label", "labelPadding": {"condition": {"test": "datum.value == 177 || datum.value == 199.99", "value": -6}, "value": 2}, "labelAlign": {"condition": {"test": "datum.value == 177 || datum.value == 199.99", "value": "center"}, "value": "right"}, "labelFontWeight": {"condition": {"test": "datum.value == 177 || datum.value == 199.99", "value": "bold"}, "value": "normal"}, "labelOffset": {"condition": {"test": "datum.value == 199.99", "value": -2}, "value": 0}, "tickOpacity": {"condition": {"test": "datum.value == 177 || datum.value == 199.99", "value": 0}, "value": 1}}}, "y2": {"field": "err"}}},
                    {"mark": {"type": "tick", "color": "#000000", "thickness": 1.5, "size": 11}, "encoding": {"x": {"field": "name", "type": "nominal", "sort": null, "axis": null}, "y": {"field": "err", "type": "quantitative", "axis": {"title": "Metabolite abundance (% WT)", "values": [0, 50, 100, 150, 177, 199.99, 200, 250], "labelOverlap": false, "zindex": 1, "domainDash": [105.2, 9.8, 300], "labelExpr": "datum.value == 177 || datum.value == 199.99 ? '\\\\' : datum.label", "labelPadding": {"condition": {"test": "datum.value == 177 || datum.value == 199.99", "value": -6}, "value": 2}, "labelAlign": {"condition": {"test": "datum.value == 177 || datum.value == 199.99", "value": "center"}, "value": "right"}, "labelFontWeight": {"condition": {"test": "datum.value == 177 || datum.value == 199.99", "value": "bold"}, "value": "normal"}, "labelOffset": {"condition": {"test": "datum.value == 199.99", "value": -2}, "value": 0}, "tickOpacity": {"condition": {"test": "datum.value == 177 || datum.value == 199.99", "value": 0}, "value": 1}}}}},
                    {"data": {"name": "Hbreak"}, "mark": {"type": "rect", "fill": "#ffffff"}, "encoding": {"y": {"field": "lo", "type": "quantitative", "axis": {"title": "Metabolite abundance (% WT)", "values": [0, 50, 100, 150, 177, 199.99, 200, 250], "labelOverlap": false, "zindex": 1, "domainDash": [105.2, 9.8, 300], "labelExpr": "datum.value == 177 || datum.value == 199.99 ? '\\\\' : datum.label", "labelPadding": {"condition": {"test": "datum.value == 177 || datum.value == 199.99", "value": -6}, "value": 2}, "labelAlign": {"condition": {"test": "datum.value == 177 || datum.value == 199.99", "value": "center"}, "value": "right"}, "labelFontWeight": {"condition": {"test": "datum.value == 177 || datum.value == 199.99", "value": "bold"}, "value": "normal"}, "labelOffset": {"condition": {"test": "datum.value == 199.99", "value": -2}, "value": 0}, "tickOpacity": {"condition": {"test": "datum.value == 177 || datum.value == 199.99", "value": 0}, "value": 1}}}, "y2": {"field": "hi"}}},
                    {"mark": {"type": "text", "fontSize": 10, "fontWeight": "bold", "baseline": "alphabetic", "dy": -3}, "encoding": {"x": {"field": "name", "type": "nominal", "sort": null, "axis": {"orient": "top", "title": "Acylcarnitine metabolites (β-oxidation of FA)", "titleAnchor": "end", "labels": false, "ticks": false, "domain": false}}, "y": {"field": "err", "type": "quantitative", "axis": {"title": "Metabolite abundance (% WT)", "values": [0, 50, 100, 150, 177, 199.99, 200, 250], "labelOverlap": false, "zindex": 1, "domainDash": [105.2, 9.8, 300], "labelExpr": "datum.value == 177 || datum.value == 199.99 ? '\\\\' : datum.label", "labelPadding": {"condition": {"test": "datum.value == 177 || datum.value == 199.99", "value": -6}, "value": 2}, "labelAlign": {"condition": {"test": "datum.value == 177 || datum.value == 199.99", "value": "center"}, "value": "right"}, "labelFontWeight": {"condition": {"test": "datum.value == 177 || datum.value == 199.99", "value": "bold"}, "value": "normal"}, "labelOffset": {"condition": {"test": "datum.value == 199.99", "value": -2}, "value": 0}, "tickOpacity": {"condition": {"test": "datum.value == 177 || datum.value == 199.99", "value": 0}, "value": 1}}}, "text": {"field": "sig"}}}
                  ]
                }
              ],
              "spacing": 63,
              "bounds": "flush"
            }
          ],
          "spacing": 76,
          "bounds": "flush"
        }
      ],
      "spacing": -23,
      "bounds": "full"
    }
  ],
  "config": {
    "font": "Liberation Sans",
    "view": {"stroke": null},
    "axis": {"grid": false, "labelOverlap": false, "domainColor": "#000000", "domainWidth": 1.5, "tickColor": "#000000", "tickWidth": 1.5, "tickSize": 5, "labelColor": "#000000", "titleColor": "#000000", "labelFont": "Liberation Sans", "titleFont": "Liberation Sans", "titleFontWeight": "bold", "titleFontSize": 12},
    "axisQuantitative": {"labelOverlap": false},
    "axisX": {"labelAngle": -45, "labelFontWeight": "bold", "labelFontSize": 10, "labelPadding": 2, "labelLimit": 300, "titleFontSize": 13, "titlePadding": 6},
    "axisY": {"labelFontSize": 10, "labelPadding": 2, "titlePadding": 5, "labelOverlap": false},
    "title": {"font": "Liberation Sans", "fontSize": 19, "fontWeight": "normal", "anchor": "start", "frame": "group", "color": "#000000"},
    "text": {"font": "Liberation Sans", "color": "#000000"}
  }
}
